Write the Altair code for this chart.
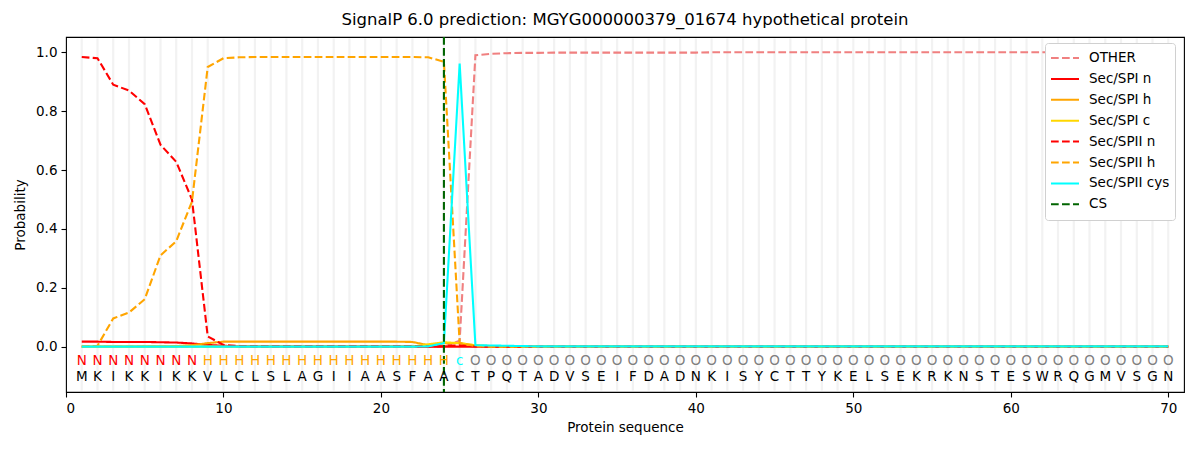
import altair as alt
import pandas as pd

positions = list(range(1, 71))
sequence = list("MKIKKIKKVLCLSLAGIIAASFAACTPQTADVSEIFDADNKISYCTTYKELSEKRKNSTESWRQGMVSGN")
regions = list("NNNNNNNNHHHHHHHHHHHHHHHHcOOOOOOOOOOOOOOOOOOOOOOOOOOOOOOOOOOOOOOOOOOOOO")

other = [0, 0, 0, 0, 0, 0, 0, 0, 0, 0,
         0, 0, 0, 0, 0, 0, 0, 0, 0, 0,
         0, 0, 0, 0, 0.02, 0.99, 0.995, 0.997, 0.998, 0.998,
         0.999, 0.999, 0.999, 0.999, 0.999, 0.999, 0.999, 0.999, 0.999, 0.999,
         1.0, 1.0, 1.0, 1.0, 1.0, 1.0, 1.0, 1.0, 1.0, 1.0,
         1.0, 1.0, 1.0, 1.0, 1.0, 1.0, 1.0, 1.0, 1.0, 1.0,
         1.0, 1.0, 1.0, 1.0, 1.0, 1.0, 1.0, 1.0, 1.0, 1.0]
spi_n = [0.017, 0.017, 0.016, 0.016, 0.016, 0.015, 0.014, 0.011, 0.006, 0.003,
         0.001, 0.001, 0, 0, 0, 0, 0, 0, 0, 0,
         0, 0, 0, 0, 0, 0, 0, 0, 0, 0,
         0, 0, 0, 0, 0, 0, 0, 0, 0, 0,
         0, 0, 0, 0, 0, 0, 0, 0, 0, 0,
         0, 0, 0, 0, 0, 0, 0, 0, 0, 0,
         0, 0, 0, 0, 0, 0, 0, 0, 0, 0]
spi_h = [0, 0, 0, 0, 0.001, 0.001, 0.002, 0.005, 0.012, 0.017,
         0.017, 0.017, 0.017, 0.017, 0.017, 0.017, 0.017, 0.017, 0.017, 0.017,
         0.017, 0.016, 0.005, 0.012, 0.012, 0.003, 0.001, 0, 0, 0,
         0, 0, 0, 0, 0, 0, 0, 0, 0, 0,
         0, 0, 0, 0, 0, 0, 0, 0, 0, 0,
         0, 0, 0, 0, 0, 0, 0, 0, 0, 0,
         0, 0, 0, 0, 0, 0, 0, 0, 0, 0]
spi_c = [0, 0, 0, 0, 0, 0, 0, 0, 0, 0,
         0, 0, 0, 0, 0, 0, 0, 0, 0, 0,
         0, 0, 0.008, 0.015, 0.012, 0.005, 0.002, 0.001, 0, 0,
         0, 0, 0, 0, 0, 0, 0, 0, 0, 0,
         0, 0, 0, 0, 0, 0, 0, 0, 0, 0,
         0, 0, 0, 0, 0, 0, 0, 0, 0, 0,
         0, 0, 0, 0, 0, 0, 0, 0, 0, 0]
spii_n = [0.984, 0.98, 0.89, 0.87, 0.824, 0.686, 0.628, 0.5, 0.035, 0.006,
          0.002, 0.001, 0.001, 0.001, 0.001, 0.001, 0.001, 0.001, 0.001, 0.001,
          0.001, 0.001, 0.001, 0.002, 0.005, 0.001, 0, 0, 0, 0,
          0, 0, 0, 0, 0, 0, 0, 0, 0, 0,
          0, 0, 0, 0, 0, 0, 0, 0, 0, 0,
          0, 0, 0, 0, 0, 0, 0, 0, 0, 0,
          0, 0, 0, 0, 0, 0, 0, 0, 0, 0]
spii_h = [0.0, 0.003, 0.096, 0.116, 0.161, 0.31, 0.358, 0.493, 0.95, 0.98,
          0.983, 0.984, 0.984, 0.984, 0.984, 0.984, 0.984, 0.984, 0.984, 0.984,
          0.984, 0.984, 0.983, 0.968, 0.012, 0.002, 0, 0, 0, 0,
          0, 0, 0, 0, 0, 0, 0, 0, 0, 0,
          0, 0, 0, 0, 0, 0, 0, 0, 0, 0,
          0, 0, 0, 0, 0, 0, 0, 0, 0, 0,
          0, 0, 0, 0, 0, 0, 0, 0, 0, 0]
spii_cys = [0, 0, 0, 0, 0, 0, 0, 0, 0, 0,
            0, 0, 0, 0, 0, 0, 0, 0, 0, 0,
            0, 0, 0.001, 0.012, 0.962, 0.005, 0.004, 0.003, 0.002, 0.001,
            0.001, 0.001, 0.001, 0.001, 0.001, 0.001, 0.001, 0.001, 0.001, 0.001,
            0.001, 0.001, 0.001, 0.001, 0.001, 0.001, 0.001, 0.001, 0.001, 0.001,
            0.001, 0.001, 0.001, 0.001, 0.001, 0.001, 0.001, 0.001, 0.001, 0.001,
            0.001, 0.001, 0.001, 0.001, 0.001, 0.001, 0.001, 0.001, 0.001, 0.001]
cs_position = 24

series_names = ["OTHER", "Sec/SPI n", "Sec/SPI h", "Sec/SPI c", "Sec/SPII n",
                "Sec/SPII h", "Sec/SPII cys", "CS"]
series_colors = ["#f08080", "red", "orange", "gold", "red", "orange", "cyan", "darkgreen"]
series_dashes = [[7.7, 3.3], [1, 0], [1, 0], [1, 0], [7.7, 3.3], [7.7, 3.3], [1, 0], [7.7, 3.3]]
region_colors = {"N": "red", "H": "orange", "c": "cyan", "O": "gray"}

values = [other, spi_n, spi_h, spi_c, spii_n, spii_h, spii_cys]

FONT = "DejaVu Sans"
color_scale = alt.Scale(domain=series_names, range=series_colors)
dash_scale = alt.Scale(domain=series_names, range=series_dashes)
legend = alt.Legend(title=None, orient="none", legendX=979, legendY=6,
                    symbolType="stroke", symbolSize=784, symbolStrokeWidth=2,
                    clipHeight=20, rowPadding=0.9, labelFontSize=13.5, labelFont=FONT,
                    labelColor="black", strokeColor="#d0d0d0", fillColor="white",
                    cornerRadius=3, padding=5, offset=0, labelOffset=9)

xs = alt.Scale(domain=[0, 71], nice=False, zero=False)
ys = alt.Scale(domain=[-0.154, 1.052], nice=False, zero=False)

X = alt.X("pos:Q", scale=xs, title="Protein sequence",
          axis=alt.Axis(values=[0, 10, 20, 30, 40, 50, 60, 70], format="d"))
Y = alt.Y("value:Q", scale=ys, title="Probability",
          axis=alt.Axis(values=[0.0, 0.2, 0.4, 0.6, 0.8, 1.0], format=".1f"))

grid_df = pd.DataFrame({"pos": positions})
grid = alt.Chart(grid_df).mark_rule(color="#f2f2f2", strokeWidth=2.2).encode(
    x=alt.X("pos:Q", scale=xs), y=alt.value(1.5), y2=alt.value(353.5))

layers = [grid]
for name, vals in zip(series_names[:-1], values):
    df = pd.DataFrame({"pos": positions, "value": vals, "series": name})
    layers.append(
        alt.Chart(df).mark_line(strokeWidth=2.1, clip=True).encode(
            x=X, y=Y,
            color=alt.Color("series:N", scale=color_scale, legend=legend),
            strokeDash=alt.StrokeDash("series:N", scale=dash_scale, legend=legend),
        )
    )

cs_df = pd.DataFrame({"pos": [cs_position], "series": ["CS"]})
layers.append(
    alt.Chart(cs_df).mark_rule(strokeWidth=2.1).encode(
        x=alt.X("pos:Q", scale=xs),
        color=alt.Color("series:N", scale=color_scale, legend=legend),
        strokeDash=alt.StrokeDash("series:N", scale=dash_scale, legend=legend),
    )
)

lab_df = pd.DataFrame({
    "pos": positions,
    "region": regions,
    "aa": sequence,
    "rcolor": [region_colors[r] for r in regions],
    "ry": [-0.049] * len(positions),
    "ay": [-0.103] * len(positions),
})
layers.append(
    alt.Chart(lab_df).mark_text(fontSize=13.5, font=FONT, baseline="middle").encode(
        x=alt.X("pos:Q", scale=xs), y=alt.Y("ry:Q", scale=ys),
        text="region:N", color=alt.Color("rcolor:N", scale=None),
    )
)
layers.append(
    alt.Chart(lab_df).mark_text(fontSize=13.5, font=FONT, baseline="middle", color="black").encode(
        x=alt.X("pos:Q", scale=xs), y=alt.Y("ay:Q", scale=ys), text="aa:N",
    )
)

chart = alt.layer(*layers).resolve_scale(color="shared", strokeDash="shared").properties(
    width=1118, height=355,
    title=alt.Title("SignalP 6.0 prediction: MGYG000000379_01674 hypothetical protein",
                    fontSize=16.5, font=FONT, fontWeight="normal", color="black", offset=7),
    autosize=alt.AutoSizeParams(type="none"),
    padding={"left": 58, "top": 29, "right": 7, "bottom": 50},
).configure_view(stroke="black", strokeWidth=1.1).configure_axis(
    grid=False, domain=False, tickColor="black", tickSize=5, tickWidth=1.1,
    labelColor="black", labelFont=FONT, labelFontSize=13.5, labelPadding=4,
    titleColor="black", titleFont=FONT, titleFontSize=13.5, titleFontWeight="normal",
).configure_axisX(titlePadding=6).configure_axisY(titlePadding=8)

chart.save("out.html", embed_options={"renderer": "svg", "actions": False})
